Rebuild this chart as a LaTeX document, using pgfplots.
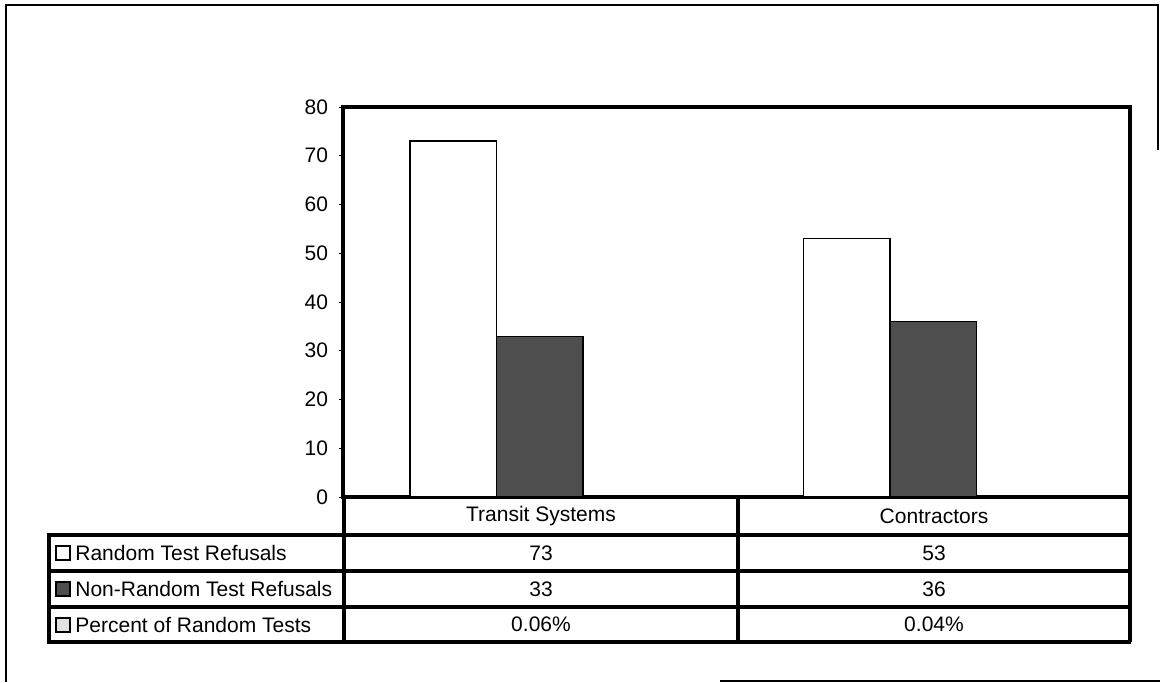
\documentclass[border=0pt]{standalone}
\usepackage{pgfplots}
\pgfplotsset{compat=1.18}
\usepackage{fontspec}
\setmainfont{Liberation Sans}
\definecolor{darkbar}{RGB}{78,78,78}
\definecolor{keylight}{RGB}{225,225,225}

\begin{document}
\begin{tikzpicture}[font=\fontsize{10.5}{12}\selectfont]
\useasboundingbox (0,0) rectangle (580pt,-341pt);

% outer frame of the scanned page (partly missing in the original)
\begin{scope}[x=0.5pt,y=-0.5pt]
\draw[line width=0.6pt] (6,682) -- (6,5) -- (1158,5) -- (1158,150);
\draw[line width=0.6pt] (720,681) -- (1160,681);
\end{scope}

\begin{axis}[
  at={(171.5pt,-248.5pt)}, anchor=south west,
  scale only axis,
  width=393.5pt, height=195pt,
  xmin=-0.5, xmax=1.5,
  ymin=0, ymax=80,
  xtick=\empty,
  ytick={0,10,...,80},
  yticklabels={0,10,20,30,40,50,60,70,80},
  ytick pos=left,
  tick align=outside,
  major tick length=2pt,
  tick style={black, line width=0.4pt},
  axis line style={line width=2.2pt},
  yticklabel style={font=\fontsize{10.5}{12}\selectfont, xshift=-2pt},
  clip=false,
]
\addplot[ybar, bar width=0.22, bar shift=-0.22, fill=white, draw=black, line width=0.8pt]
  coordinates {(0,73) (1,53)};
\addplot[ybar, bar width=0.22, bar shift=0, fill=darkbar, draw=black, line width=0.6pt]
  coordinates {(0,33) (1,36)};
\end{axis}

% data table under the chart
\begin{scope}[x=0.5pt,y=-0.5pt]
\begin{scope}[line width=2.2pt]
\draw (344,497) -- (344,642);
\draw (738,497) -- (738,642);
\draw (1130,497) -- (1130,642);
\draw (343,535) -- (49,535) -- (49,642) -- (1131,642);
\draw (49,535) -- (1131,535);
\draw (49,571) -- (1131,571);
\draw (49,607) -- (1131,607);
\end{scope}
\node at (541,516.5) {Transit Systems};
\node at (934,516.5) {Contractors};
\node at (541,553) {73};
\node at (934,553) {53};
\node at (541,589) {33};
\node at (934,589) {36};
\node at (541,624.5) {0.06\%};
\node at (934,624.5) {0.04\%};
% legend keys and row names
\draw[line width=1pt, fill=white] (56,546) rectangle (70,560);
\draw[line width=0.6pt, fill=darkbar] (56,582) rectangle (70,596);
\draw[line width=1pt, fill=keylight] (56,617.5) rectangle (70,631.5);
\node[anchor=west, inner sep=0pt] at (75,553) {Random Test Refusals};
\node[anchor=west, inner sep=0pt] at (75,589) {Non-Random Test Refusals};
\node[anchor=west, inner sep=0pt] at (75,624.5) {Percent of Random Tests};
\end{scope}
\end{tikzpicture}
\end{document}
